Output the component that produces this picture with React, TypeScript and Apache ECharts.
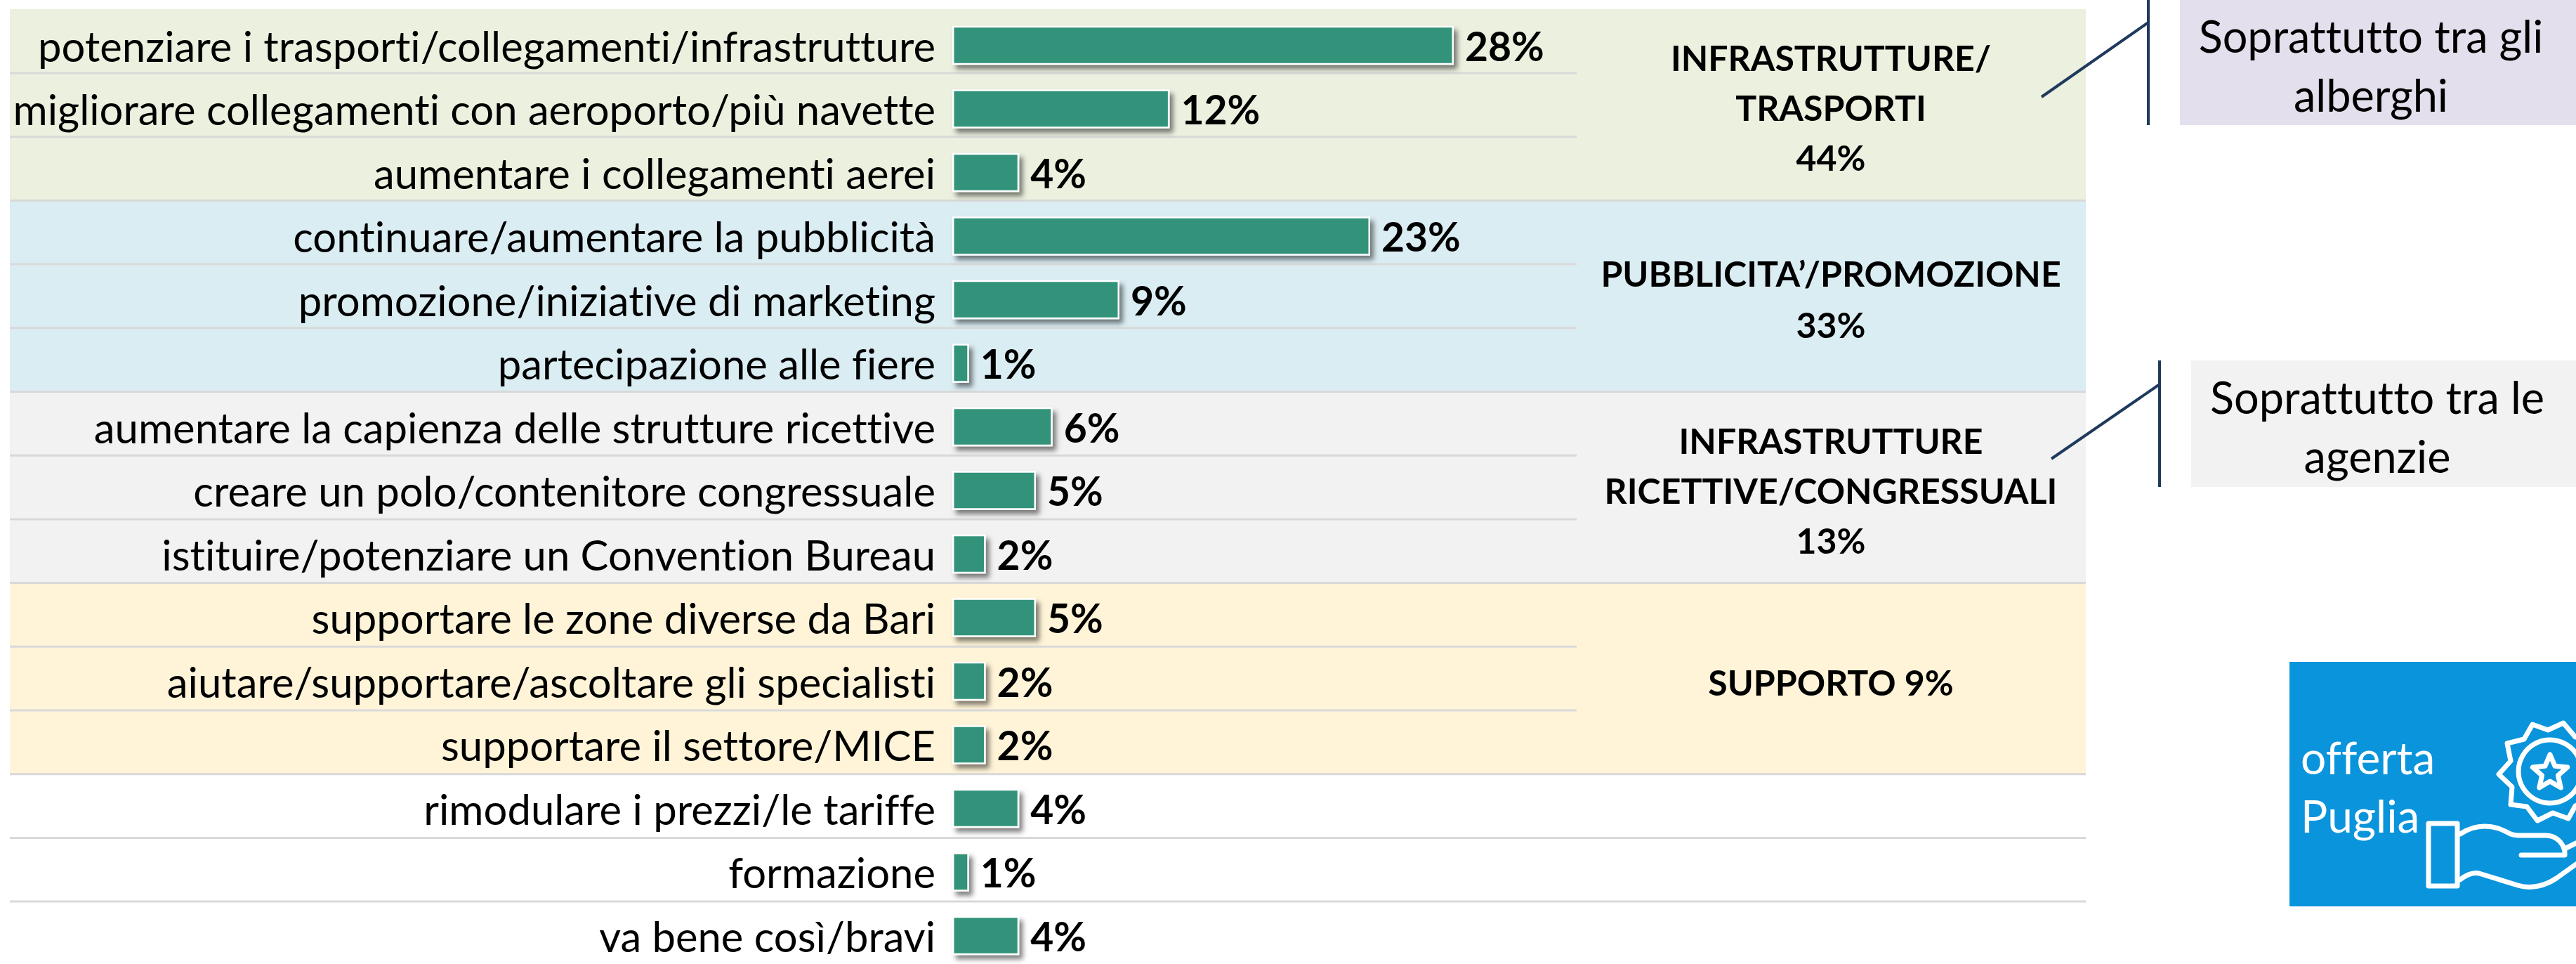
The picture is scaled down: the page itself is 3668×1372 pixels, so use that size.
import React, { useEffect, useRef } from "react";
import * as echarts from "echarts";

const categories = [
  "potenziare i trasporti/collegamenti/infrastrutture",
  "migliorare collegamenti con aeroporto/più navette",
  "aumentare i collegamenti aerei",
  "continuare/aumentare la pubblicità",
  "promozione/iniziative di marketing",
  "partecipazione alle fiere",
  "aumentare la capienza delle strutture ricettive",
  "creare un polo/contenitore congressuale",
  "istituire/potenziare un Convention Bureau",
  "supportare le zone diverse da Bari",
  "aiutare/supportare/ascoltare gli specialisti",
  "supportare il settore/MICE",
  "rimodulare i prezzi/le tariffe",
  "formazione",
  "va bene così/bravi",
];
// Bar lengths as drawn in the picture (they are not proportional to the printed labels)
const barValues = [30, 13, 4, 25, 10, 1, 6, 5, 2, 5, 2, 2, 4, 1, 4];
const printedLabels = ["28%", "12%", "4%", "23%", "9%", "1%", "6%", "5%", "2%", "5%", "2%", "2%", "4%", "1%", "4%"];

const groupTexts = [
  { lines: ["INFRASTRUTTURE/", "TRASPORTI", "44%"], ys: [82, 153, 224] },
  { lines: ["PUBBLICITA’/PROMOZIONE", "33%"], ys: [389, 462] },
  { lines: ["INFRASTRUTTURE", "RICETTIVE/CONGRESSUALI", "13%"], ys: [627, 698, 769] },
  { lines: ["SUPPORTO 9%"], ys: [971] },
];

const FONT = "Lato, Carlito, Calibri, sans-serif";
const LABEL_SIZE = 59.8;
const VALUE_SIZE = 57;
const LINE_COLOR = "#D9D9D9";
const NAVY = "#1F3A5C";

function text(x: number, y: number, t: string, size: number, opts: any = {}) {
  return {
    type: "text",
    x,
    y,
    silent: true,
    style: {
      text: t,
      fontSize: size,
      fontFamily: FONT,
      fontWeight: opts.weight ?? "normal",
      fill: opts.fill ?? "#000000",
      align: opts.align ?? "center",
      verticalAlign: "middle",
    },
  };
}
function rect(x: number, y: number, w: number, h: number, fill: string) {
  return { type: "rect", silent: true, shape: { x, y, width: w, height: h }, style: { fill } };
}
function line(x1: number, y1: number, x2: number, y2: number, stroke: string, lineWidth: number) {
  return { type: "line", silent: true, shape: { x1, y1, x2, y2 }, style: { stroke, lineWidth } };
}
function starPoints(cx: number, cy: number, outer: number, inner: number) {
  const pts: number[][] = [];
  for (let i = 0; i < 10; i++) {
    const r = i % 2 === 0 ? outer : inner;
    const a = -Math.PI / 2 + (i * Math.PI) / 5;
    pts.push([cx + r * Math.cos(a), cy + r * Math.sin(a)]);
  }
  return pts;
}

const HAND_PATH =
  "M3503 1187 C3515 1179 3525 1176 3538 1176 C3555 1176 3565 1182 3575 1187 C3582 1190 3590 1189 3600 1189 L3625 1189 C3640 1189 3650 1200 3652 1212 L3652 1217 L3590 1217 M3652 1208 L3668 1200 M3503 1252 C3512 1245 3520 1241 3530 1243 L3585 1260 C3605 1266 3625 1260 3640 1250 L3668 1230";
echarts.graphic.registerShape("handIcon", echarts.graphic.extendPath(HAND_PATH, {}));

const BADGE = [
  [3606, 1031], [3628, 1039], [3650, 1029], [3667, 1049], [3680, 1047], [3702, 1052], [3700, 1075], [3717, 1093],
  [3700, 1110], [3703, 1133], [3680, 1140], [3667, 1147], [3657, 1165], [3635, 1157], [3613, 1168], [3598, 1148],
  [3575, 1145], [3577, 1120], [3558, 1102], [3575, 1083], [3570, 1058], [3594, 1052],
];

function buildGraphic() {
  const rowLine = (k: number) => 104 + 90.7 * k;
  const RIGHT = 2970;
  const els: any[] = [
    rect(14, 13, RIGHT - 14, rowLine(2) - 13, "#EBF0DF"),
    rect(14, rowLine(2), RIGHT - 14, rowLine(5) - rowLine(2), "#DAEDF3"),
    rect(14, rowLine(5), RIGHT - 14, rowLine(8) - rowLine(5), "#F2F2F2"),
    rect(14, rowLine(8), RIGHT - 14, rowLine(11) - rowLine(8), "#FFF4D8"),
  ];
  for (let k = 0; k < 14; k++) {
    const full = k % 3 === 2 || k > 11;
    els.push(line(14, rowLine(k), full ? RIGHT : 2245, rowLine(k), LINE_COLOR, 3));
  }
  for (const g of groupTexts) {
    g.lines.forEach((t, i) => els.push(text(2607, g.ys[i], t, 50, { weight: "bold" })));
  }
  // callouts
  els.push(rect(3104, 0, 564, 178, "#E4DFEC"));
  els.push(line(3059, 0, 3059, 178, NAVY, 4));
  els.push(line(2907, 138, 3059, 32, NAVY, 4));
  els.push(text(3376, 50, "Soprattutto tra gli", 63));
  els.push(text(3376, 134, "alberghi", 63));
  els.push(rect(3120, 513, 548, 180, "#F2F2F2"));
  els.push(line(3075, 513, 3075, 693, NAVY, 4));
  els.push(line(2921, 653, 3075, 547, NAVY, 4));
  els.push(text(3385, 564, "Soprattutto tra le", 63));
  els.push(text(3385, 648, "agenzie", 63));
  // offerta Puglia tile
  els.push(rect(3260, 942, 408, 348, "#0A94DC"));
  els.push(text(3276, 1077, "offerta", 64, { fill: "#FFFFFF", align: "left" }));
  els.push(text(3276, 1160, "Puglia", 64, { fill: "#FFFFFF", align: "left" }));
  const outline = { fill: "none", stroke: "#FFFFFF", lineWidth: 7, lineJoin: "round", lineCap: "round" };
  els.push({ type: "rect", silent: true, shape: { x: 3458, y: 1172, width: 41, height: 89 }, style: outline });
  els.push({ type: "handIcon", silent: true, x: 0, y: 0, style: outline });
  els.push({ type: "polygon", silent: true, shape: { points: BADGE }, style: outline });
  els.push({ type: "circle", silent: true, shape: { cx: 3631, cy: 1098, r: 45 }, style: outline });
  els.push({ type: "polygon", silent: true, shape: { points: starPoints(3631, 1100, 26, 12) }, style: outline });
  return els;
}

export default function App() {
  const ref = useRef<HTMLDivElement>(null);
  useEffect(() => {
    const chart = echarts.init(ref.current!, null, { renderer: "svg" });
    chart.setOption({
      animation: false,
      backgroundColor: "#FFFFFF",
      graphic: { elements: buildGraphic() },
      grid: { left: 1356, width: 1428, top: 19.25, height: 1357.5, containLabel: false, outerBoundsMode: "none" },
      xAxis: { type: "value", min: 0, max: 60, show: false },
      yAxis: {
        type: "category",
        inverse: true,
        data: categories,
        axisLine: { show: false },
        axisTick: { show: false },
        splitLine: { show: false },
        axisLabel: {
          margin: 24,
          fontSize: LABEL_SIZE,
          fontFamily: FONT,
          color: "#000000",
          align: "right",
          interval: 0,
        },
      },
      series: [
        {
          type: "bar",
          data: barValues,
          barWidth: 55.6,
          itemStyle: {
            color: "#32937A",
            borderColor: "#FFFFFF",
            borderWidth: 2.5,
            shadowColor: "rgba(0,0,0,0.5)",
            shadowBlur: 7,
            shadowOffsetX: 5,
            shadowOffsetY: 6,
          },
          label: {
            show: true,
            position: "right",
            distance: 16,
            formatter: (p: any) => printedLabels[p.dataIndex],
            fontSize: VALUE_SIZE,
            fontWeight: "bold",
            fontFamily: FONT,
            color: "#000000",
          },
        },
      ],
    });
    return () => chart.dispose();
  }, []);
  return (
    <div
      ref={ref}
      style={{ position: "absolute", left: 0, top: 0, width: 3668, height: 1372, fontVariantLigatures: "none" }}
    />
  );
}
